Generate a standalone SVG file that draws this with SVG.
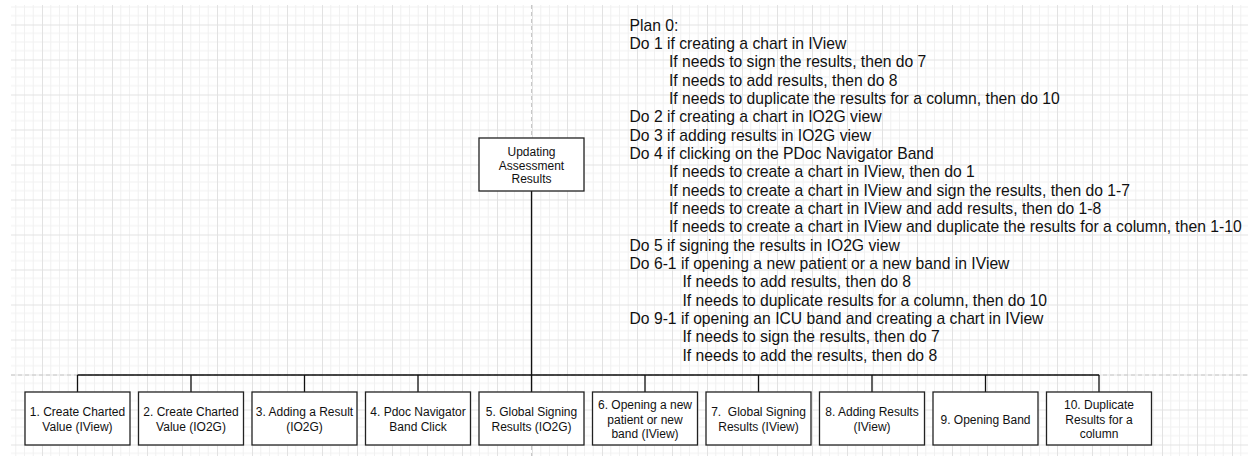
<svg xmlns="http://www.w3.org/2000/svg" width="1248" height="456" viewBox="0 0 1248 456">
  <style>
    .box { fill: #ffffff; stroke: #222222; stroke-width: 1.3; }
    .lbl { font-family: "Liberation Sans", Arial, sans-serif; font-size: 12px; fill: #111111; text-anchor: middle; }
    .plan { font-family: "Liberation Sans", Arial, sans-serif; font-size: 15.7px; fill: #111111; }
    .conn { fill: none; stroke: #111111; stroke-width: 1.3; }
    .page { fill: none; stroke: #c8c8c8; stroke-width: 1; stroke-dasharray: 4 3; }
  </style>
  <defs>
    <pattern id="grid" patternUnits="userSpaceOnUse" x="7" y="24.5" width="35" height="35">
      <rect width="35" height="35" fill="#ffffff"/>
      <path d="M8.75 0V35M17.5 0V35M26.25 0V35M0 8.75H35M0 17.5H35M0 26.25H35" stroke="#f1f1f1" stroke-width="1" fill="none"/>
      <path d="M0.5 0V35M0 0.5H35" stroke="#e2e2e2" stroke-width="1" fill="none"/>
    </pattern>
  </defs>
  <rect width="1248" height="456" fill="#ffffff"/>
  <rect x="11" y="5" width="1237" height="451" fill="url(#grid)"/>
  <g id="page-breaks">
    <line class="page" x1="531.5" y1="5" x2="531.5" y2="456"/>
    <line class="page" x1="11" y1="375" x2="1248" y2="375"/>
  </g>

  <g id="connectors">
    <path class="conn" d="M531.5 191V375"/>
    <path class="conn" d="M77.5 375H1099"/>
    <path class="conn" d="M77.5 375V392M191 375V392M304.5 375V392M418 375V392M531.5 375V392M645 375V392M758.5 375V392M872 375V392M985.5 375V392M1099 375V392"/>
  </g>

  <g id="root">
    <rect class="box" x="479" y="138" width="105" height="53"/>
    <text class="lbl"><tspan x="531.5" y="156">Updating</tspan><tspan x="531.5" y="169.7">Assessment</tspan><tspan x="531.5" y="183.4">Results</tspan></text>
  </g>

  <g id="plan">
    <text class="plan">
      <tspan x="629.5" y="30.7">Plan 0:</tspan>
      <tspan x="629.5" y="49">Do 1 if creating a chart in IView</tspan>
      <tspan x="669" y="67.4">If needs to sign the results, then do 7</tspan>
      <tspan x="669" y="85.7">If needs to add results, then do 8</tspan>
      <tspan x="669" y="104">If needs to duplicate the results for a column, then do 10</tspan>
      <tspan x="629.5" y="122.4">Do 2 if creating a chart in IO2G view</tspan>
      <tspan x="629.5" y="140.7">Do 3 if adding results in IO2G view</tspan>
      <tspan x="629.5" y="159">Do 4 if clicking on the PDoc Navigator Band</tspan>
      <tspan x="669" y="177.4">If needs to create a chart in IView, then do 1</tspan>
      <tspan x="669" y="195.7">If needs to create a chart in IView and sign the results, then do 1-7</tspan>
      <tspan x="669" y="214">If needs to create a chart in IView and add results, then do 1-8</tspan>
      <tspan x="669" y="232.3">If needs to create a chart in IView and duplicate the results for a column, then 1-10</tspan>
      <tspan x="629.5" y="250.7">Do 5 if signing the results in IO2G view</tspan>
      <tspan x="629.5" y="269">Do 6-1 if opening a new patient or a new band in IView</tspan>
      <tspan x="682.5" y="287.3">If needs to add results, then do 8</tspan>
      <tspan x="682.5" y="305.6">If needs to duplicate results for a column, then do 10</tspan>
      <tspan x="629.5" y="324">Do 9-1 if opening an ICU band and creating a chart in IView</tspan>
      <tspan x="682.5" y="342.3">If needs to sign the results, then do 7</tspan>
      <tspan x="682.5" y="360.7">If needs to add the results, then do 8</tspan>
    </text>
  </g>

  <g id="n1">
    <rect class="box" x="25" y="392" width="105" height="53"/>
    <text class="lbl"><tspan x="77.5" y="416.3">1. Create Charted</tspan><tspan x="77.5" y="430.8">Value (IView)</tspan></text>
  </g>
  <g id="n2">
    <rect class="box" x="138.5" y="392" width="105" height="53"/>
    <text class="lbl"><tspan x="191" y="416.3">2. Create Charted</tspan><tspan x="191" y="430.8">Value (IO2G)</tspan></text>
  </g>
  <g id="n3">
    <rect class="box" x="252" y="392" width="105" height="53"/>
    <text class="lbl"><tspan x="304.5" y="416.3">3. Adding a Result</tspan><tspan x="304.5" y="430.8">(IO2G)</tspan></text>
  </g>
  <g id="n4">
    <rect class="box" x="365.5" y="392" width="105" height="53"/>
    <text class="lbl"><tspan x="418" y="416.3">4. Pdoc Navigator</tspan><tspan x="418" y="430.8">Band Click</tspan></text>
  </g>
  <g id="n5">
    <rect class="box" x="479" y="392" width="105" height="53"/>
    <text class="lbl"><tspan x="531.5" y="416.3">5. Global Signing</tspan><tspan x="531.5" y="430.8">Results (IO2G)</tspan></text>
  </g>
  <g id="n6">
    <rect class="box" x="592.5" y="392" width="105" height="53"/>
    <text class="lbl"><tspan x="645" y="409">6. Opening a new</tspan><tspan x="645" y="423.5">patient or new</tspan><tspan x="645" y="437.5">band (IView)</tspan></text>
  </g>
  <g id="n7">
    <rect class="box" x="706" y="392" width="105" height="53"/>
    <text class="lbl" xml:space="preserve"><tspan x="758.5" y="416.3">7.  Global Signing</tspan><tspan x="758.5" y="430.8">Results (IView)</tspan></text>
  </g>
  <g id="n8">
    <rect class="box" x="819.5" y="392" width="105" height="53"/>
    <text class="lbl"><tspan x="872" y="416.3">8. Adding Results</tspan><tspan x="872" y="430.8">(IView)</tspan></text>
  </g>
  <g id="n9">
    <rect class="box" x="933" y="392" width="105" height="53"/>
    <text class="lbl"><tspan x="985.5" y="423.5">9. Opening Band</tspan></text>
  </g>
  <g id="n10">
    <rect class="box" x="1046.5" y="392" width="105" height="53"/>
    <text class="lbl"><tspan x="1099" y="409">10. Duplicate</tspan><tspan x="1099" y="423.5">Results for a</tspan><tspan x="1099" y="437.5">column</tspan></text>
  </g>
</svg>
